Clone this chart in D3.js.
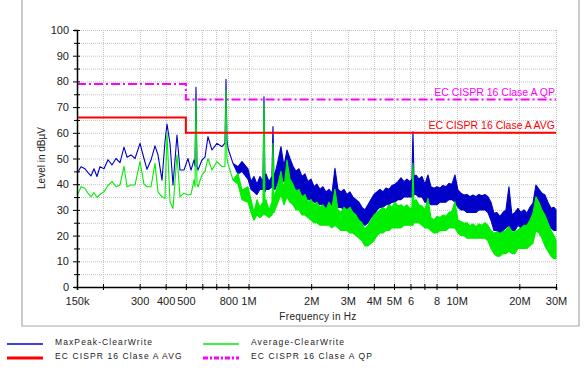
<!DOCTYPE html>
<html><head><meta charset="utf-8">
<script src="https://cdn.jsdelivr.net/npm/d3@7/dist/d3.min.js"></script>
<style>
html,body{margin:0;padding:0;background:#fff;}
svg{display:block;font-family:"Liberation Sans",Arial,sans-serif;}
</style></head>
<body><svg id="c" width="586" height="374"></svg>
<script>
// Frequencies in MHz
const freqMHz = [
0.15,0.1568,0.1639,0.1694,0.1751,0.1810,0.1871,0.1934,0.2022,0.2113,
0.2209,0.2309,0.2414,0.2523,0.2608,0.2726,0.2850,0.3011,0.3147,0.3254,
0.3401,0.3555,0.3674,0.3841,0.3970,0.4059,0.4196,0.4337,0.4533,0.4686,
0.4898,0.5119,0.5293,0.5471,0.5531,0.5594,0.5655,0.5719,0.5977,0.6179,
0.6387,0.6675,0.7055,0.7457,0.7708,0.7796,0.7880,0.7970,0.8422,0.8900,
0.9303,0.9942,1.0278,1.0622,1.0981,1.1351,1.1734,1.1866,1.1997,1.2130,
1.2539,1.2962,1.3108,1.3252,1.3399,1.3851,1.4319,1.4802,1.5302,1.5818,
1.6352,1.6903,1.7473,1.8063,1.8672,1.9302,1.9953,2.0627,2.1322,2.2042,
2.2785,2.3554,2.4348,2.5170,2.6019,2.6897,2.7804,2.8742,2.9712,3.0714,
3.1750,3.2821,3.3929,3.5073,3.6256,3.7479,3.8744,4.0051,4.1402,4.2799,
4.4243,4.5735,4.7278,4.8873,5.0522,5.2226,5.3988,5.5809,5.7692,5.9638,
6.0970,6.1650,6.2337,6.3730,6.5880,6.8103,7.0400,7.2775,7.5230,7.7768,
8.0392,8.3104,8.5907,8.8805,9.1801,9.4898,9.8100,10.141,10.483,10.837,
11.202,11.580,11.971,12.375,12.792,13.224,13.670,14.131,14.608,15.100,
15.609,16.136,16.680,17.243,17.825,18.426,19.048,19.690,20.354,21.041,
21.751,22.484,23.243,24.027,24.838,25.676,26.542,27.437,28.363,29.320,
30];

// MaxPeak-ClearWrite: upper / lower envelope (dBµV)
const peakHi = [
44.2,46.8,46,44.5,43.2,46,43,46.8,46,49.5,
47.5,50,48.4,54.4,50.5,51.4,50,55.9,50,45.8,
49.4,54.9,51.4,41.6,56.5,63.4,55.9,39.7,59.1,45.5,
45.5,50,45.5,49.4,47,77.7,47,45.5,49.4,50.5,
58.5,53.3,55.9,54.6,56,80.8,57.2,54,48.1,46.8,
48.8,46,41,43,40,43,41,74,40,44,
41,43,62.4,42,44,49,54.6,47,53.3,50,
47,45,46,43,44,41,42,39,40,38,
39,37,38,36.5,46.2,38,37,38,36,37,
35,34,33,31,30,32,34,36,37,38,
37,38.5,38,39.5,40,41,42.5,41,42,41,
42,60.4,43,43.5,42,43,40,43.6,39,38.4,
39,38.5,39.5,39,40.3,40,43.6,37.7,36.5,35.8,
36,35.1,35.8,35.1,36,35.5,36,35.1,33,28.7,
29,27.4,29,30,39,28,29,30.6,29,30,
28.7,31,32.6,39.7,38,36.5,35.8,33,30.6,31,
30];
const peakLo = [
44.2,46.8,46,44.5,43.2,46,43,46.8,46,49.5,
47.5,50,48.4,54.4,50.5,51.4,50,55.9,50,45.8,
49.4,54.9,51.4,41.6,56.5,63.4,55.9,39.7,59.1,45.5,
45.5,50,45.5,49.4,47,77.7,47,45.5,49.4,50.5,
58.5,53.3,55.9,54.6,56,80.8,57.2,54,48.1,44,
45,42,38,37,36,38,38,40,37,38,
38,39,39,38,38,41,43,41,42,40,
39,38,37,36,35,34,34,33,33,32,
32,31,31,31,32,31,31,30,30,29,
28,27,26,25,24,25,27,28,30,31,
31,32,32,33,33,34,34,35,35,35,
35,35,36,36,35,35,33,33,32,32,
32,33,33,33,34,34,33,31,30,30,
29,29,29,29,30,30,30,29,26,22,
22,21,22,23,24,22,22,24,23,23,
23,24,25,30,30,29,27,25,23,22,
22];

// Average-ClearWrite: upper / lower envelope (dBµV)
const avgHi = [
35.4,39,38.4,36.5,35.1,36.7,34.9,36,37.1,39.5,
41,39,39.7,47,39,39.7,39.7,48.8,40,39,
39,48.1,37,35.1,34.5,59.8,33.2,30.6,51.4,35.1,
36.5,35.8,36,41.6,39,72.8,40,39,43.6,45,
50,45.5,48.8,46.8,47,76.7,50,48,41.6,44.2,
37.7,39,34,29,34,31,33,71.5,32,34,
30,33,55.9,32,36,40,45,38,49.4,42,
40,37,38,35,36,33,34,32,33,31,
32,30,33,31,38,30,29,31,30,31,
29,28,26,25,22.5,24,26,28,29,30,
31,30,32,31,33,31.5,32,31,32,30.5,
31,48.1,33,34,32,31.5,30,34.5,27,26.1,
27.5,27,28,27.5,29,29.5,33.2,26.1,25.5,24.8,
25,23.8,24.5,23.5,24.5,24,25,24,22,20.9,
21.5,20.9,21.5,22,23.5,21.5,21.5,22.2,23,24,
24,26,28.7,35.1,33,30,28,25,22.2,20,
18.3];
const avgLo = [
35.4,39,38.4,36.5,35.1,36.7,34.9,36,37.1,39.5,
41,39,39.7,47,39,39.7,39.7,48.8,40,39,
39,48.1,37,35.1,34.5,59.8,33.2,30.6,51.4,35.1,
36.5,35.8,36,41.6,39,72.8,40,39,43.6,45,
50,45.5,48.8,46.8,47,76.7,50,48,41.6,40,
34,33,29,26,28,27,28,29,28,28,
27,28,29,29,30,33,36,32,35,33,
32,30,30,28,28,27,26,25,25,24,
24,24,24,23,24,23,22,22,22,21,
21,20,19,18,16,16,17,18,20,21,
21,22,22,23,23,23,23,24,24,24,
24,24,25,25,25,24,23,23,22,21,
21,22,22,22,23,23,23,21,20,20,
19,19,19,19,19,19,19,18,15,13,
12,12,13,13,14,13,13,15,15,15,
15,16,17,22,21,19,16,14,12,11,
11];

// Limit lines (step at 0.5 MHz)
const limitFreq = [0.15,0.5,0.5,30];
const limitQP  = [79,79,73,73];
const limitAVG = [66,66,60,60];

// Axis ticks
const xTickValues = [0.15,0.2,0.3,0.4,0.5,0.6,0.7,0.8,1,2,3,4,5,6,7,8,10,20,30];
const xTickLabels = ["150k","","300","400","500","","","800","1M","2M","3M","4M","5M","6","","8","10M","20M","30M"];
const yTickValues = [0,5,10,15,20,25,30,35,40,45,50,55,60,65,70,75,80,85,90,95,100];

const svg = d3.select("#c");
const L=77, R=556, T=30, B=287;
const x = d3.scaleLog().domain([0.15,30]).range([L,R]);
const y = d3.scaleLinear().domain([0,100]).range([B,T]);

// outer frame
svg.append("path").attr("d","M22,-1V326H579V-1").attr("fill","none").attr("stroke","#a8a8a8").attr("stroke-width",1.2);

// grid
const g = svg.append("g");
g.selectAll(".hg").data(yTickValues.filter(v=>v>0)).join("line")
  .attr("x1",L).attr("x2",R).attr("y1",d=>y(d)+0.5).attr("y2",d=>y(d)+0.5)
  .attr("stroke","#c4c4c4").attr("stroke-width",1).attr("stroke-dasharray","1,1");
g.selectAll(".vg").data(xTickValues.slice(1)).join("line")
  .attr("x1",d=>Math.round(x(d))+0.5).attr("x2",d=>Math.round(x(d))+0.5).attr("y1",T).attr("y2",B)
  .attr("stroke","#c4c4c4").attr("stroke-width",1).attr("stroke-dasharray","1,1");

svg.append("clipPath").attr("id","clip").append("rect").attr("x",L).attr("y",T-2).attr("width",R-L+2).attr("height",B-T+2);
const plot = svg.append("g").attr("clip-path","url(#clip)");

const idx = d3.range(freqMHz.length);
function band(hi, lo, color){
  const area = d3.area().x(i=>x(freqMHz[i])).y0(i=>y(lo[i])).y1(i=>y(hi[i]));
  plot.append("path").attr("d",area(idx)).attr("fill",color).attr("stroke",color)
    .attr("stroke-width",1.1).attr("stroke-linejoin","round");
}
band(peakHi, peakLo, "#0000c8");
band(avgHi, avgLo, "#00ee00");

const lim = d3.line().x(i=>x(limitFreq[i])).y(i=>y(limitQP[i]));
plot.append("path").attr("d",lim(d3.range(4))).attr("fill","none").attr("stroke","#ff00ff")
  .attr("stroke-width",2).attr("stroke-dasharray","9,3,2,3");
const lim2 = d3.line().x(i=>x(limitFreq[i])).y(i=>y(limitAVG[i]));
plot.append("path").attr("d",lim2(d3.range(4))).attr("fill","none").attr("stroke","#ff0000")
  .attr("stroke-width",2);

svg.append("text").attr("x",R-1).attr("y",y(73)-3.5).attr("text-anchor","end")
  .attr("font-size",10.5).attr("fill","#ff00ff").text("EC CISPR 16 Clase A QP");
svg.append("text").attr("x",R-1).attr("y",y(60)-3.5).attr("text-anchor","end")
  .attr("font-size",10.5).attr("fill","#ff0000").text("EC CISPR 16 Clase A  AVG");

// axes
const xAxis = d3.axisBottom(x).tickValues(xTickValues).tickFormat((d,i)=>xTickLabels[i]).tickSizeOuter(0).tickSize(3).tickPadding(7);
const xa = svg.append("g").attr("transform",`translate(0,${B})`).call(xAxis);
xa.selectAll(".tick line").attr("y1",-3).attr("y2",3).attr("stroke","#000");
xa.select(".domain").attr("stroke","#000").attr("stroke-width",1.5);
xa.selectAll("text").attr("font-size",11).attr("fill","#222").attr("font-family","Liberation Sans, Arial, sans-serif");

const yAxis = d3.axisLeft(y).tickValues(yTickValues).tickFormat(d=>d%10===0?d:"").tickSizeOuter(0).tickSize(3).tickPadding(5);
const ya = svg.append("g").attr("transform",`translate(${L},0)`).call(yAxis);
ya.selectAll(".tick line").attr("x1",d=>d%10===0?-4:-3).attr("x2",3).attr("stroke","#000");
ya.select(".domain").attr("stroke","#000").attr("stroke-width",1.5);
ya.selectAll("text").attr("font-size",11).attr("fill","#222").attr("font-family","Liberation Sans, Arial, sans-serif");

svg.append("text").attr("transform","translate(45,158) rotate(-90)").attr("text-anchor","middle")
  .attr("font-size",10).attr("fill","#222").text("Level in dBµV");
svg.append("text").attr("x",318).attr("y",320).attr("text-anchor","middle")
  .attr("font-size",10).attr("fill","#222").attr("letter-spacing",0.3).text("Frequency in Hz");

// legend
const legend = [
  {label:"MaxPeak-ClearWrite", color:"#0000c8", w:1.3, dash:null, lx:7, ly:344},
  {label:"Average-ClearWrite", color:"#00ee00", w:1.3, dash:null, lx:203, ly:344},
  {label:"EC CISPR 16 Clase A  AVG", color:"#ff0000", w:3, dash:null, lx:7, ly:358},
  {label:"EC CISPR 16 Clase A  QP", color:"#ff00ff", w:3, dash:"5,2,2,2", lx:203, ly:358}
];
const lg = svg.append("g").selectAll("g").data(legend).join("g");
lg.append("line").attr("x1",d=>d.lx).attr("x2",d=>d.lx+36).attr("y1",d=>d.ly).attr("y2",d=>d.ly)
  .attr("stroke",d=>d.color).attr("stroke-width",d=>d.w).attr("stroke-dasharray",d=>d.dash);
lg.append("text").attr("x",d=>d.lx+48).attr("y",d=>d.ly+0.5).attr("font-size",8.5)
  .attr("letter-spacing",1.1).attr("fill","#222").text(d=>d.label);
</script></body></html>
